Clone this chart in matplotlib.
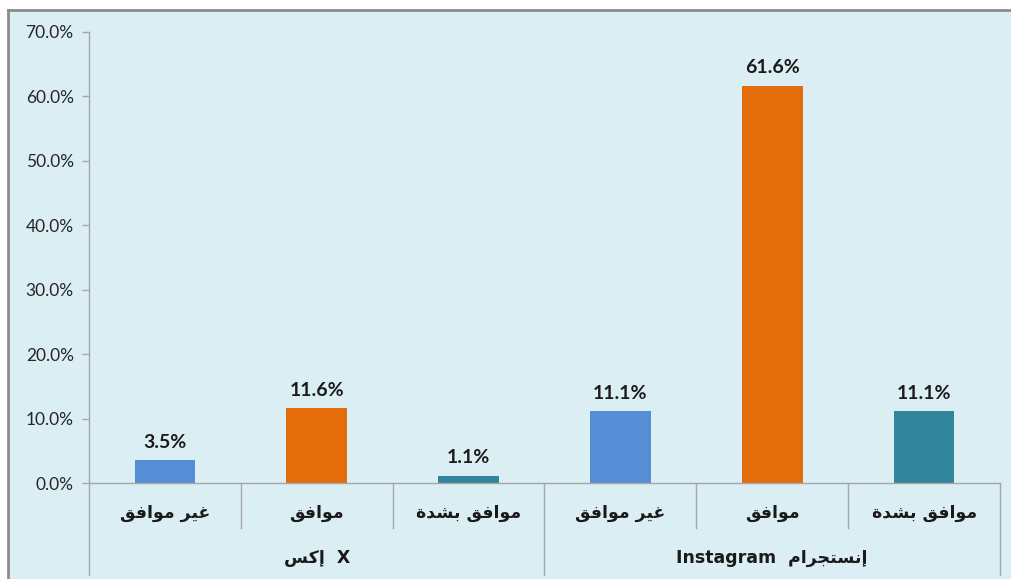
import numpy as np
import matplotlib.pyplot as plt
from matplotlib.patches import Rectangle
from matplotlib.lines import Line2D
import matplotlib.transforms as mtransforms

# data
groups = ['إكس', 'إنستجرام']
group_latin = ['X', 'Instagram']
categories = ['غير موافق', 'موافق', 'موافق بشدة']
values = [3.5, 11.6, 1.1, 11.1, 61.6, 11.1]
colors = ['#558ED5', '#E46C0A', '#31859C']

# minimal Arabic shaping (presentation forms: iso, fin, ini, med)
FORMS = {
    'ا': (0xFE8D, 0xFE8E, None, None),
    'إ': (0xFE87, 0xFE88, None, None),
    'ب': (0xFE8F, 0xFE90, 0xFE91, 0xFE92),
    'ة': (0xFE93, 0xFE94, None, None),
    'ت': (0xFE95, 0xFE96, 0xFE97, 0xFE98),
    'ج': (0xFE9D, 0xFE9E, 0xFE9F, 0xFEA0),
    'د': (0xFEA9, 0xFEAA, None, None),
    'ر': (0xFEAD, 0xFEAE, None, None),
    'س': (0xFEB1, 0xFEB2, 0xFEB3, 0xFEB4),
    'ش': (0xFEB5, 0xFEB6, 0xFEB7, 0xFEB8),
    'غ': (0xFECD, 0xFECE, 0xFECF, 0xFED0),
    'ف': (0xFED1, 0xFED2, 0xFED3, 0xFED4),
    'ق': (0xFED5, 0xFED6, 0xFED7, 0xFED8),
    'ك': (0xFED9, 0xFEDA, 0xFEDB, 0xFEDC),
    'م': (0xFEE1, 0xFEE2, 0xFEE3, 0xFEE4),
    'ن': (0xFEE5, 0xFEE6, 0xFEE7, 0xFEE8),
    'و': (0xFEED, 0xFEEE, None, None),
    'ي': (0xFEF1, 0xFEF2, 0xFEF3, 0xFEF4),
}


def shape_word(word):
    out = []
    for i, ch in enumerate(word):
        f = FORMS.get(ch)
        if f is None:
            out.append(ch)
            continue
        prev = word[i - 1] if i > 0 else None
        nxt = word[i + 1] if i + 1 < len(word) else None
        join_prev = prev in FORMS and FORMS[prev][2] is not None
        join_next = nxt in FORMS and f[2] is not None
        if join_prev and join_next:
            code = f[3]
        elif join_prev:
            code = f[1]
        elif join_next:
            code = f[2]
        else:
            code = f[0]
        out.append(chr(code))
    return ''.join(reversed(out))


def shape(text):
    return ' '.join(shape_word(w) for w in reversed(text.split(' ')))


W, H = 1011, 579
fig = plt.figure(figsize=(W / 100, H / 100), dpi=100)
fig.patch.set_facecolor('white')


def fx(px):
    return px / W


def fy(py):
    return 1 - py / H


# chart area background and frame
fig.patches.append(Rectangle((fx(8), 0), 1 - fx(8), fy(10), transform=fig.transFigure,
                             facecolor='#DBEEF3', edgecolor='none', zorder=-5))
fig.lines.append(Line2D([fx(8), 1], [fy(10), fy(10)], transform=fig.transFigure,
                        color='#8C8C8C', lw=2, zorder=-4))
fig.lines.append(Line2D([fx(8), fx(8)], [0, fy(10)], transform=fig.transFigure,
                        color='#8C8C8C', lw=2, zorder=-4))

ax = fig.add_axes([fx(89), fy(483), fx(1000) - fx(89), fy(32) - fy(483)])
ax.set_facecolor('none')

x = np.arange(len(values))
bar_colors = [colors[i % 3] for i in range(len(values))]
ax.bar(x, values, width=0.4, color=bar_colors, zorder=2)
for xi, v in zip(x, values):
    ax.text(xi, v + 1.5, f'{v:.1f}%', ha='center', va='bottom', fontsize=14,
            fontweight='bold', family=['Lato', 'DejaVu Sans'], color='#1A1A1A')

ax.set_xlim(-0.5, len(values) - 0.5)
ax.set_ylim(0, 70)
yt = np.arange(0, 71, 10)
ax.set_yticks(yt)
ax.set_yticklabels([f'{t:.1f}%' for t in yt], fontsize=12.5, family='Lato', color='#262626')
ax.set_xticks([])
ax.tick_params(axis='y', length=5, color='#A6A6A6', width=1, pad=6)
for s in ['top', 'right']:
    ax.spines[s].set_visible(False)
for s in ['left', 'bottom']:
    ax.spines[s].set_color('#A6A6A6')
    ax.spines[s].set_linewidth(1)

# category dividers and labels
trans = mtransforms.blended_transform_factory(ax.transData, fig.transFigure)
n = len(values)
for b in range(n + 1):
    bx = b - 0.5
    low = fy(575) if b % 3 == 0 else fy(528)
    ax.add_line(Line2D([bx, bx], [fy(483), low], transform=trans, color='#A6A6A6',
                       lw=1, clip_on=False))
for i in range(n):
    ax.text(i, fy(513), shape(categories[i % 3]), transform=trans, ha='center',
            va='center', fontsize=12.5, fontweight='bold', family='DejaVu Sans', color='#1A1A1A')

group_texts = [shape(groups[0]) + '  ' + group_latin[0],
               group_latin[1] + '  ' + shape(groups[1])]
for g, label in enumerate(group_texts):
    ax.text(g * 3 + 1, fy(558), label, transform=trans, ha='center', va='center',
            fontsize=12.5, fontweight='bold', family='DejaVu Sans', color='#1A1A1A')

plt.savefig('out.png', dpi=100)
